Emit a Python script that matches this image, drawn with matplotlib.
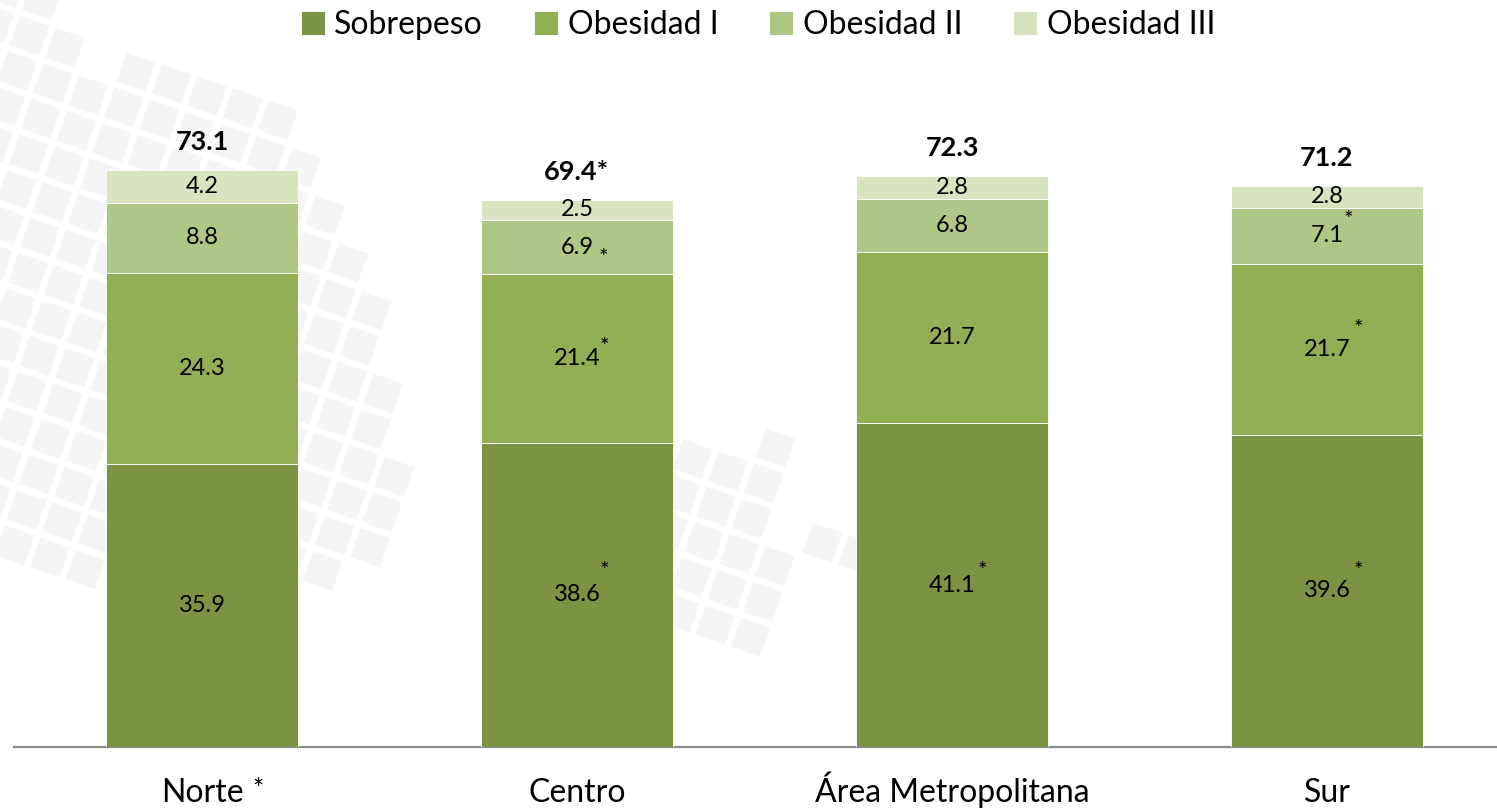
import matplotlib
matplotlib.use("Agg")
import matplotlib.pyplot as plt
from matplotlib.patches import Polygon
import numpy as np

# ---- data ----
categories = ["Norte", "Centro", "Área Metropolitana", "Sur"]
series_names = ["Sobrepeso", "Obesidad I", "Obesidad II", "Obesidad III"]
sobrepeso = [35.9, 38.6, 41.1, 39.6]
obesidad_1 = [24.3, 21.4, 21.7, 21.7]
obesidad_2 = [8.8, 6.9, 6.8, 7.1]
obesidad_3 = [4.2, 2.5, 2.8, 2.8]
totals = [73.1, 69.4, 72.3, 71.2]
total_marks = ["", "*", "", ""]
category_marks = ["*", "", "", ""]
sobrepeso_marks = ["", "*", "*", "*"]
obesidad_1_marks = ["", "*", "", "*"]
obesidad_2_marks = ["", "*", "", "*"]
obesidad_3_marks = ["", "", "", ""]

# ---- style ----
FONT = ["Lato", "DejaVu Sans"]
plt.rcParams["font.family"] = FONT
colors = ["#7A9444", "#92AF55", "#AFC786", "#D8E4BF"]
PX = 72 / 100  # points per pixel at dpi 100

# asterisk offsets in pixels (dx right, dy up) per (series index, category index)
star_offsets = {
    (0, 1): (27, 24), (0, 2): (30, 14), (0, 3): (31, 20),
    (1, 1): (27, 12), (1, 3): (31, 20),
    (2, 1): (26, -11), (2, 3): (21, 16),
}

fig = plt.figure(figsize=(14.97, 8.11), dpi=100)
W, H = 1497, 811

# ---- faint decorative background squares (watermark) ----
ang = np.deg2rad(18.8)
ud = np.array([np.cos(ang), np.sin(ang)])
vd = np.array([-np.sin(ang), np.cos(ang)])
step, side = 37.5, 31.0


def left_mask(x, y):
    xmax = np.interp(y, [0, 60, 80, 150, 250, 350, 500, 580],
                     [60, 90, 270, 320, 370, 390, 400, 380])
    return (y < 580) and (x < xmax) and (x > -20)


def mid_mask(x, y):
    return (660 < x < 780 and 440 < y < 640) or (820 < x < 860 and 520 < y < 560)


def draw_grid(origin, mask):
    for u in range(-40, 41):
        for v in range(-40, 41):
            c = np.array(origin) + u * step * ud + v * step * vd
            if not mask(c[0], c[1]):
                continue
            h = side / 2
            corners = [c + sx * h * ud + sy * h * vd
                       for sx, sy in [(-1, -1), (1, -1), (1, 1), (-1, 1)]]
            pts = [(p[0] / W, 1 - p[1] / H) for p in corners]
            fig.patches.append(Polygon(pts, closed=True, transform=fig.transFigure,
                                       facecolor="#F5F5F5", edgecolor="none",
                                       zorder=-5))


draw_grid((207, 96), left_mask)
draw_grid((728, 471), mid_mask)

ax = fig.add_axes([14 / W, (H - 747) / H, 1483 / W, 647 / H])
ax.set_zorder(2)
ax.patch.set_alpha(0)

x = np.arange(len(categories))
width = 0.512
series = [sobrepeso, obesidad_1, obesidad_2, obesidad_3]
marks = [sobrepeso_marks, obesidad_1_marks, obesidad_2_marks, obesidad_3_marks]
bottom = np.zeros(len(categories))
for si, (vals, name, col) in enumerate(zip(series, series_names, colors)):
    vals = np.array(vals)
    ax.bar(x, vals, width, bottom=bottom, color=col, label=name,
           edgecolor="white", linewidth=0.6, zorder=3)
    for ci in range(len(categories)):
        yc = bottom[ci] + vals[ci] / 2
        ax.text(x[ci], yc, f"{vals[ci]:.1f}", ha="center", va="center",
                fontsize=17, color="black", zorder=4)
        if marks[si][ci]:
            dx, dy = star_offsets.get((si, ci), (28, 16))
            ax.annotate(marks[si][ci], xy=(x[ci], yc), xytext=(dx * PX, dy * PX),
                        textcoords="offset points", ha="center", va="center",
                        fontsize=16, color="black", zorder=4)
    bottom = bottom + vals

for ci in range(len(categories)):
    ax.annotate(f"{totals[ci]:.1f}{total_marks[ci]}", xy=(x[ci], bottom[ci]),
                xytext=(0, 28 * PX), textcoords="offset points",
                ha="center", va="center", fontsize=19.5, fontweight="bold",
                color="black", zorder=4)

ax.set_ylim(0, 647 / 7.88)
ax.set_xlim(-0.5013, -0.5013 + 1483 / 375)
ax.set_xticks(x)
ax.set_xticklabels(categories, fontsize=23)
for lab in ax.get_xticklabels():
    lab.set_va("baseline")
ax.tick_params(axis="x", length=0, pad=55 * PX)
ax.set_yticks([])
for s in ["top", "right", "left"]:
    ax.spines[s].set_visible(False)
ax.spines["bottom"].set_color("#8C8C8C")
ax.spines["bottom"].set_linewidth(1.6)

for ci in range(len(categories)):
    if category_marks[ci]:
        ax.annotate(category_marks[ci], xy=(x[ci], 0), xycoords="data",
                    xytext=(56 * PX, -44 * PX), textcoords="offset points",
                    ha="center", va="center", fontsize=19, color="black",
                    annotation_clip=False)

handles, labels = ax.get_legend_handles_labels()
fig.legend(handles, labels, loc="center", bbox_to_anchor=(758 / W, 1 - 25 / H),
           ncol=4, frameon=False, fontsize=23, handlelength=0.75,
           handleheight=0.75, handletextpad=0.3, columnspacing=1.6,
           borderaxespad=0)

fig.savefig("out.png", dpi=100)
